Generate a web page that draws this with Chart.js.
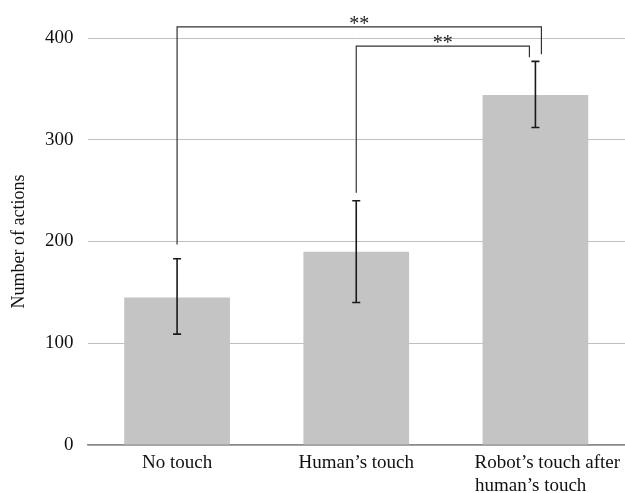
<!DOCTYPE html>
<html>
<head>
<meta charset="utf-8">
<script src="https://cdn.jsdelivr.net/npm/chart.js@4.4.1/dist/chart.umd.min.js"></script>
<style>
html,body{margin:0;padding:0;background:#fff;}
#wrap{width:625px;height:493px;position:relative;}
</style>
</head>
<body>
<div id="wrap"><canvas id="c" width="625" height="493"></canvas></div>
<script>
// ---- data ----
// (spaces in the last label only emulate the left-aligned two-line label of the original)
const categories = ['No touch', 'Human\u2019s touch', ['     Robot\u2019s touch after', 'human\u2019s touch  ']];
const meanActions = [145, 190, 344];
const errLow = [109, 140, 312];
const errHigh = [183, 240, 377];
const yTicks = [0, 100, 200, 300, 400];
// significance brackets
const sigFrom = [0, 1];
const sigTo = [2, 2];
const sigLeftBottom = [197, 248];
const sigTop = [411, 392];
const sigRightBottom = [384, 381];
const sigLabels = ['**', '**'];

const SERIF = '"Liberation Serif", "DejaVu Serif", serif';

const errorBarPlugin = {
  id: 'errorBars',
  afterDatasetsDraw(chart) {
    const ctx = chart.ctx;
    const x = chart.scales.x, y = chart.scales.y;
    ctx.save();
    ctx.strokeStyle = '#1a1a1a';
    ctx.lineWidth = 1.6;
    for (let i = 0; i < meanActions.length; i++) {
      const px = x.getPixelForValue(i);
      const yl = y.getPixelForValue(errLow[i]);
      const yh = y.getPixelForValue(errHigh[i]);
      ctx.beginPath();
      ctx.moveTo(px, yl); ctx.lineTo(px, yh);
      ctx.moveTo(px - 4, yl); ctx.lineTo(px + 4, yl);
      ctx.moveTo(px - 4, yh); ctx.lineTo(px + 4, yh);
      ctx.stroke();
    }
    // brackets
    ctx.strokeStyle = '#333';
    ctx.lineWidth = 1.2;
    ctx.fillStyle = '#222';
    ctx.font = '20px ' + SERIF;
    ctx.textAlign = 'center';
    ctx.textBaseline = 'alphabetic';
    for (let k = 0; k < sigFrom.length; k++) {
      const x1 = x.getPixelForValue(sigFrom[k]);
      const x2 = x.getPixelForValue(sigTo[k]) + (k === 0 ? 6 : -6);
      const yb1 = y.getPixelForValue(sigLeftBottom[k]);
      const yt = y.getPixelForValue(sigTop[k]);
      const yb2 = y.getPixelForValue(sigRightBottom[k]);
      ctx.beginPath();
      ctx.moveTo(x1, yb1); ctx.lineTo(x1, yt); ctx.lineTo(x2, yt); ctx.lineTo(x2, yb2);
      ctx.stroke();
      ctx.fillText(sigLabels[k], (x1 + x2) / 2, yt + 3);
    }
    ctx.restore();
  }
};

new Chart(document.getElementById('c'), {
  type: 'bar',
  data: {
    labels: categories,
    datasets: [{
      data: meanActions,
      backgroundColor: '#c3c4c3',
      borderWidth: 0,
      categoryPercentage: 1,
      barPercentage: 0.59
    }]
  },
  options: {
    responsive: false,
    animation: false,
    devicePixelRatio: 1,
    layout: { padding: { top: 38, left: 0, right: 0, bottom: 0 } },
    plugins: { legend: { display: false }, tooltip: { enabled: false } },
    scales: {
      x: {
        grid: { display: false, drawTicks: false },
        border: { display: true, color: '#8a8a8a', width: 1.5 },
        ticks: { font: { family: SERIF, size: 19, lineHeight: 1.18 }, color: '#111', padding: 7, maxRotation: 0, autoSkip: false },
        afterFit(s) { s.height = 48; s.paddingLeft = 0; s.paddingRight = 0; }
      },
      y: {
        min: 0, max: 400,
        afterBuildTicks(s) { s.ticks = yTicks.map(v => ({ value: v })); },
        grid: { color: '#c0c0c0', lineWidth: 1, drawTicks: false },
        border: { display: false },
        ticks: { font: { family: SERIF, size: 19 }, color: '#111', padding: 14 },
        title: { display: true, text: 'Number of actions', font: { family: SERIF, size: 18 }, color: '#111', padding: { top: 8, bottom: 0 } },
        afterFit(s) { s.width = 87.5; }
      }
    }
  },
  plugins: [errorBarPlugin]
});
</script>
</body>
</html>
